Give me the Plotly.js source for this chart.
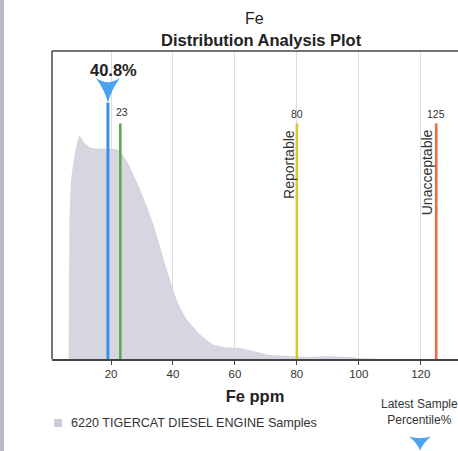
<!DOCTYPE html>
<html>
<head>
<meta charset="utf-8">
<script src="https://cdn.plot.ly/plotly-3.0.1.min.js"></script>
<style>
  html, body { margin: 0; padding: 0; overflow: hidden; background: #fff; width: 458px; height: 451px; }
  #chart { position: absolute; left: 0; top: 0; width: 458px; height: 451px; }
  #strip { position: absolute; left: 0; top: 0; width: 4px; height: 451px; background: #b9b9c7; }
</style>
</head>
<body>
<div id="chart"></div>
<div id="strip"></div>
<script>
// ---- data ----
const sampleFe = [6.3, 6.6, 7.1, 8.2, 9.8, 11.4, 13.2, 16, 19, 22.2, 25.2, 29.4, 33.5, 37.4, 41.6, 44.5, 48.7, 52.9, 57.4, 61.6, 65.9, 70.4, 74.6, 78.8, 83.3, 89.7, 96.2, 100.4, 106.9];
const sampleDensity = [0, 45, 58, 66, 72.5, 70.2, 68.7, 68.3, 68.3, 68.0, 64.1, 55.0, 44.3, 31.0, 18.3, 12.8, 8.0, 4.7, 3.7, 3.6, 2.6, 1.5, 1.1, 0.9, 0.7, 0.9, 0.7, 0.3, 0];
const latestValue = 19;
const latestPercentile = 40.8;
const limitValues = [23, 80, 125];
const limitNames = ['', 'Reportable', 'Unacceptable'];
const limitColors = ['#5aab4b', '#d6c936', '#ee6a3f'];
const tickValues = [20, 40, 60, 80, 100, 120];
const seriesName = '6220 TIGERCAT DIESEL ENGINE Samples';
const elementName = 'Fe';

// ---- layout constants ----
const FONT = 'Liberation Sans, Arial, sans-serif';
const W = 458, H = 451;
const latestColor = '#3a8fe2';
const arrowColor = '#4aa2f2';
const lineTop = 76.5;

const traces = [];
traces.push({
  x: sampleFe, y: sampleDensity, type: 'scatter', mode: 'lines',
  fill: 'tozeroy', fillcolor: '#d6d6e0',
  line: {color: 'rgba(0,0,0,0)', width: 0, shape: 'spline', smoothing: 0.5},
  hoverinfo: 'skip', showlegend: false
});
traces.push({
  x: [latestValue, latestValue], y: [0, 83.2], type: 'scatter', mode: 'lines',
  line: {color: latestColor, width: 3}, showlegend: false, hoverinfo: 'skip'
});
limitValues.forEach((v, i) => {
  traces.push({
    x: [v, v], y: [0, lineTop], type: 'scatter', mode: 'lines',
    line: {color: limitColors[i], width: 2.6}, showlegend: false, hoverinfo: 'skip'
  });
});

const annotations = [];
annotations.push({
  x: 0.4995, y: 1.107, xref: 'paper', yref: 'paper', text: elementName, showarrow: false,
  font: {family: FONT, size: 16, color: '#222'}, xanchor: 'center', yanchor: 'middle'
});
annotations.push({
  x: 0.5148, y: 1.0357, xref: 'paper', yref: 'paper', text: '<b>Distribution Analysis Plot</b>',
  showarrow: false, font: {family: FONT, size: 16.5, color: '#222'}, xanchor: 'center', yanchor: 'middle'
});
limitValues.forEach((v, i) => {
  annotations.push({
    x: v, y: i === 0 ? 80.2 : 79.4, xref: 'x', yref: 'y', text: String(v), showarrow: false,
    xshift: i === 0 ? 2 : 0, font: {family: FONT, size: 10.5, color: '#333'},
    xanchor: 'center', yanchor: 'middle'
  });
  if (limitNames[i]) {
    annotations.push({
      x: v, y: i === 1 ? 63.3 : 60.7, xref: 'x', yref: 'y', text: limitNames[i],
      showarrow: false, textangle: -90, xshift: i === 1 ? -8 : -9,
      font: {family: FONT, size: 14, color: '#333'}, xanchor: 'center', yanchor: 'middle'
    });
  }
});
annotations.push({
  x: latestValue, y: 93.8, xref: 'x', yref: 'y', text: '<b>' + latestPercentile + '%</b>',
  showarrow: false, xshift: 6, font: {family: FONT, size: 16.5, color: '#222'},
  xanchor: 'center', yanchor: 'middle'
});
annotations.push({
  x: 119.7, y: -0.171, xref: 'x', yref: 'paper', text: 'Latest Sample<br>Percentile%',
  showarrow: false, font: {family: FONT, size: 12, color: '#333'},
  xanchor: 'center', yanchor: 'middle'
});
annotations.push({
  x: 0.0419, y: -0.208, xref: 'paper', yref: 'paper', text: seriesName,
  showarrow: false, font: {family: FONT, size: 12.6, color: '#333'},
  xanchor: 'left', yanchor: 'middle'
});

function dart(cx, hw, yTop, yNotch, yTip) {
  return `M ${cx - hw},${yTop} Q ${cx},${yNotch} ${cx + hw},${yTop} ` +
         `Q ${cx + hw * 0.25},${(yTop + yTip) / 2} ${cx},${yTip} ` +
         `Q ${cx - hw * 0.25},${(yTop + yTip) / 2} ${cx - hw},${yTop} Z`;
}

const shapes = [
  {type: 'line', xref: 'paper', yref: 'paper', x0: 0, x1: 0, y0: 0, y1: 1,
   line: {color: '#444', width: 1.5}, layer: 'above'},
  {type: 'line', xref: 'paper', yref: 'paper', x0: 0, x1: 1.01, y0: 1, y1: 1,
   line: {color: '#444', width: 1.5}, layer: 'above'},
  {type: 'path', xref: 'x', yref: 'y', path: dart(latestValue, 3.9, 91.2, 88.5, 83.2),
   fillcolor: arrowColor, line: {width: 0}},
  {type: 'path', xref: 'x', yref: 'paper', path: dart(119.8, 3.5, -0.252, -0.262, -0.297),
   fillcolor: arrowColor, line: {width: 0}},
  {type: 'rect', xref: 'paper', yref: 'paper', x0: 0.0055, x1: 0.0245, y0: -0.195, y1: -0.221,
   fillcolor: '#cacad8', line: {width: 0}}
];

const layout = {
  width: W, height: H, autosize: false,
  margin: {l: 52, r: 0, t: 51, b: 92, pad: 0},
  paper_bgcolor: '#fff', plot_bgcolor: '#fff',
  font: {family: FONT, color: '#333'},
  xaxis: {
    range: [0.936, 132.03], tickvals: tickValues, ticktext: tickValues.map(String),
    ticks: 'outside', ticklen: 4, tickcolor: '#444', tickwidth: 1,
    showgrid: true, gridcolor: '#dcdce8', gridwidth: 1, zeroline: false,
    showline: true, linecolor: '#444', linewidth: 1.5, mirror: false,
    tickfont: {family: FONT, size: 11.5, color: '#333'},
    title: {text: '<b>Fe ppm</b>', font: {family: FONT, size: 16.5, color: '#222'}, standoff: 11},
    automargin: false
  },
  yaxis: {
    range: [0, 100], showticklabels: false, ticks: '', showgrid: false, zeroline: false,
    showline: false, automargin: false
  },
  showlegend: false,
  annotations: annotations,
  shapes: shapes
};

Plotly.newPlot('chart', traces, layout, {displayModeBar: false, staticPlot: true});
</script>
</body>
</html>
